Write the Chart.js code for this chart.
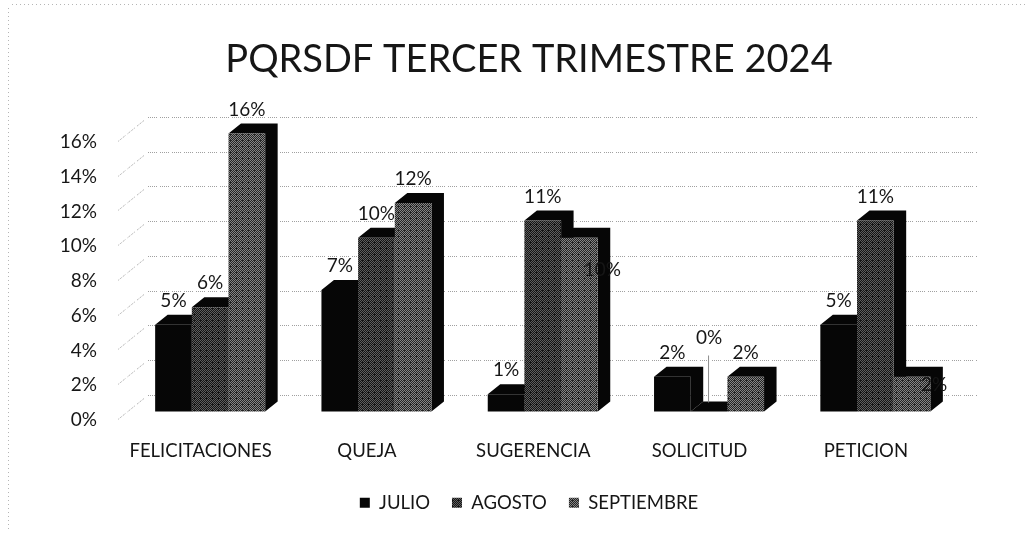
<!DOCTYPE html>
<html>
<head>
<meta charset="utf-8">
<title>PQRSDF TERCER TRIMESTRE 2024</title>
<script src="https://cdn.jsdelivr.net/npm/chart.js@4"></script>
<style>
  html, body { margin: 0; padding: 0; background: #fff; }
  #wrap { width: 1032px; height: 535px; }
</style>
</head>
<body>
<div id="wrap"><canvas id="chart"></canvas></div>
<script>
const categories = ['FELICITACIONES', 'QUEJA', 'SUGERENCIA', 'SOLICITUD', 'PETICION'];
const julio = [5, 7, 1, 2, 5];
const agosto = [6, 10, 11, 0, 11];
const septiembre = [16, 12, 10, 2, 2];

const FONT = 'Lato, "Open Sans", sans-serif';
const INK = '#161616';
const DEPTH_X = 12.5;
const DEPTH_Y = 10;
const WALL_Y = 16.7; // back wall sits above the bar baseline

// scanned halftone look for the 2 lighter series
const halftone = (dark, light) => {
    const tile = document.createElement('canvas');
    tile.width = tile.height = 6;
    const c = tile.getContext('2d');
    c.fillStyle = dark;
    c.fillRect(0, 0, 6, 6);
    c.fillStyle = light;
    for (let y = 0; y < 6; y++) {
        for (let x = 0; x < 6; x++) {
            if ((x + y) % 2 === 0) c.fillRect(x, y, 1, 1);
        }
    }
    c.fillStyle = dark;
    c.fillRect(2, 2, 2, 1);
    return c.createPattern(tile, 'repeat');
};

// nudges for the labels Excel moved off the bar tops: dataset-index -> [dx, dy]
const labelNudge = { '1-3': [0, -50], '2-2': [23, 56], '2-4': [22, 32] };

const depth3d = {
    id: 'depth3d',
    beforeDatasetsDraw(chart) {
        const ctx = chart.ctx;
        const y = chart.scales.y;

        // frame left by the scan
        ctx.save();
        ctx.strokeStyle = '#b5b5b5';
        ctx.setLineDash([1, 3]);
        ctx.beginPath();
        ctx.moveTo(12, 4.5);
        ctx.lineTo(1028, 4.5);
        ctx.moveTo(8.5, 8);
        ctx.lineTo(8.5, 530);
        ctx.stroke();

        // back wall grid + the oblique bit on the side wall
        ctx.strokeStyle = '#a0a0a0';
        ctx.setLineDash([1, 1, 1, 1, 1, 1, 1, 1, 1, 3]);
        y.ticks.forEach(t => {
            const py = Math.round(y.getPixelForValue(t.value) - WALL_Y) + 0.5;
            ctx.beginPath();
            ctx.moveTo(148, py);
            ctx.lineTo(978, py);
            ctx.moveTo(144, py + 3);
            ctx.lineTo(118, py + 24);
            ctx.stroke();
        });
        ctx.restore();

        // left to right so each front face hides the side of the bar before it
        chart.data.datasets.forEach((ds, i) => {
            chart.getDatasetMeta(i).data.forEach(bar => {
                const left = bar.x - bar.width / 2;
                const right = bar.x + bar.width / 2;
                ctx.fillStyle = '#060606';
                ctx.beginPath();
                ctx.moveTo(left, bar.y);
                ctx.lineTo(left + DEPTH_X, bar.y - DEPTH_Y);
                ctx.lineTo(right + DEPTH_X, bar.y - DEPTH_Y);
                ctx.lineTo(right + DEPTH_X, bar.base - DEPTH_Y);
                ctx.lineTo(right, bar.base);
                ctx.lineTo(right, bar.y);
                ctx.closePath();
                ctx.fill();
                bar.draw(ctx);
            });
        });

        // value labels
        ctx.save();
        ctx.font = '19px ' + FONT;
        ctx.fillStyle = INK;
        ctx.textAlign = 'center';
        ctx.textBaseline = 'middle';
        chart.data.datasets.forEach((ds, i) => {
            chart.getDatasetMeta(i).data.forEach((bar, j) => {
                const n = labelNudge[i + '-' + j] || [0, 0];
                ctx.fillText(ds.data[j] + '%', bar.x + n[0], bar.y - 24 + n[1]);
                if (ds.data[j] === 0) {
                    ctx.strokeStyle = '#8c8c8c';
                    ctx.beginPath();
                    ctx.moveTo(bar.x - 0.5, bar.y - 56);
                    ctx.lineTo(bar.x - 0.5, bar.y - 9);
                    ctx.stroke();
                }
            });
        });
        ctx.restore();
        return false;
    }
};

new Chart(document.getElementById('chart'), {
    type: 'bar',
    data: {
        labels: categories,
        datasets: [
            { label: 'JULIO', data: julio, backgroundColor: '#060606' },
            { label: 'AGOSTO', data: agosto, backgroundColor: halftone('#141414', '#5e5e5e') },
            { label: 'SEPTIEMBRE', data: septiembre, backgroundColor: halftone('#242424', '#858585') }
        ]
    },
    plugins: [depth3d],
    options: {
        responsive: true,
        maintainAspectRatio: false,
        animation: false,
        layout: { padding: { left: 26, right: 0, top: 0, bottom: 13 } },
        datasets: { bar: { barPercentage: 1, categoryPercentage: 0.6615 } },
        plugins: {
            tooltip: { enabled: false },
            title: {
                display: true,
                text: 'PQRSDF TERCER TRIMESTRE 2024',
                color: INK,
                font: { family: FONT, size: 38, weight: 'normal' },
                padding: { top: 37, bottom: 51 }
            },
            legend: {
                position: 'bottom',
                labels: {
                    font: { family: FONT, size: 18.5 },
                    color: INK,
                    boxWidth: 10,
                    boxHeight: 10,
                    padding: 22
                }
            }
        },
        scales: {
            x: {
                grid: { display: false },
                border: { display: false },
                afterFit(scale) { scale.height = 60; },
                ticks: {
                    color: INK,
                    font: { family: FONT, size: 18.5 },
                    padding: 20,
                    labelOffset: -9.5,
                    maxRotation: 0
                }
            },
            y: {
                min: 0,
                max: 16,
                grid: { display: false, drawTicks: false },
                border: { display: false },
                afterFit(scale) { scale.width = 101; },
                ticks: {
                    stepSize: 2,
                    color: INK,
                    font: { family: FONT, size: 19 },
                    padding: 30,
                    labelOffset: 8.5,
                    callback: v => v + '%'
                }
            },
            // empty axis, only keeps the plot clear of the right margin
            spacer: {
                position: 'right',
                grid: { display: false, drawTicks: false },
                border: { display: false },
                ticks: { display: false },
                afterFit(scale) { scale.width = 73.5; }
            }
        }
    }
});
</script>
</body>
</html>
